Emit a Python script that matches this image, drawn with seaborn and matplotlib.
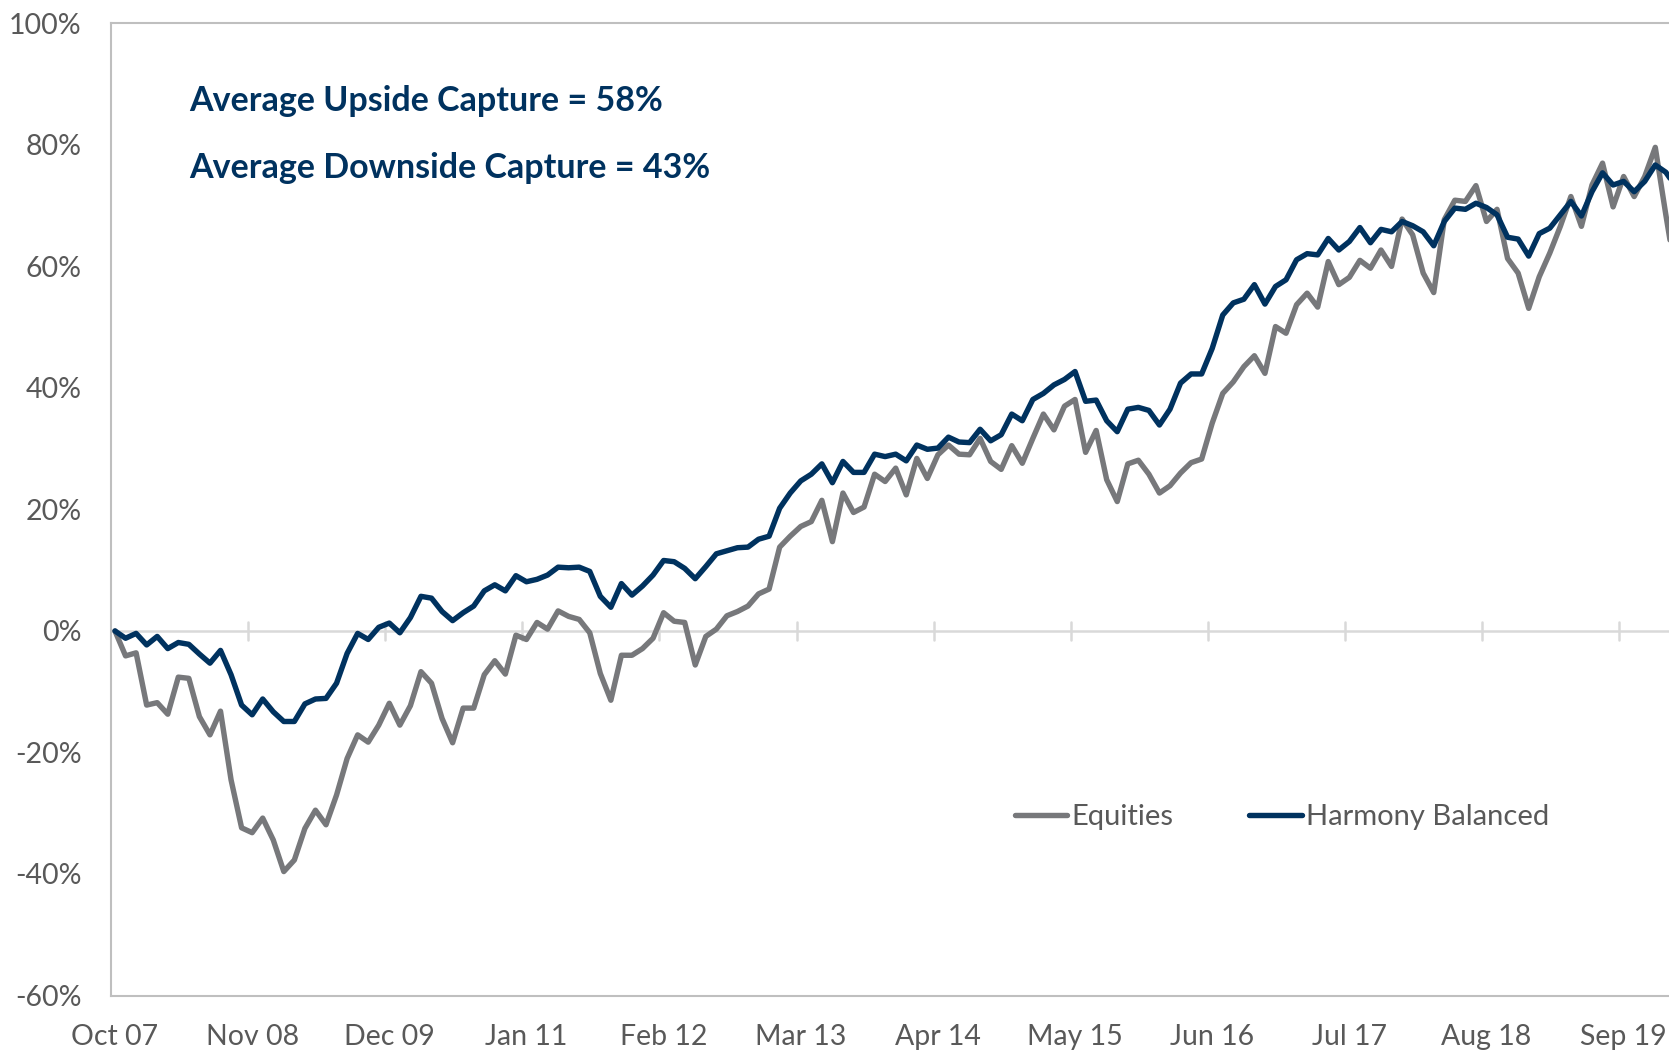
import numpy as np
import pandas as pd
import seaborn as sns
import matplotlib.pyplot as plt

# Cumulative return (%) by month, starting Oct 2007
equities = [
    0, -4.1, -3.6, -12.2, -11.8, -13.7, -7.6, -7.8, -14.1, -17.1,
    -13.2, -24.5, -32.4, -33.2, -30.8, -34.4, -39.6, -37.7, -32.5, -29.5,
    -31.9, -27.0, -21.0, -17.1, -18.3, -15.5, -11.9, -15.5, -12.3, -6.7,
    -8.6, -14.4, -18.4, -12.7, -12.7, -7.2, -4.9, -7.1, -0.7, -1.4,
    1.4, 0.3, 3.3, 2.4, 1.9, -0.3, -7.0, -11.4, -4.0, -4.0,
    -2.9, -1.2, 3.0, 1.6, 1.4, -5.6, -0.9, 0.3, 2.5, 3.2,
    4.1, 6.1, 6.9, 13.8, 15.6, 17.2, 18.0, 21.5, 14.7, 22.7,
    19.5, 20.4, 25.8, 24.6, 26.8, 22.4, 28.4, 25.1, 29.0, 30.6,
    29.1, 29.0, 31.7, 27.9, 26.6, 30.5, 27.6, 31.7, 35.7, 33.1,
    37.0, 38.1, 29.4, 33.0, 24.9, 21.3, 27.5, 28.1, 25.8, 22.7,
    23.9, 26.0, 27.7, 28.3, 34.2, 39.1, 41.0, 43.5, 45.3, 42.4,
    50.1, 49.0, 53.7, 55.6, 53.3, 60.8, 57.0, 58.2, 61.0, 59.7,
    62.7, 60.0, 67.8, 65.2, 58.9, 55.7, 67.7, 70.9, 70.7, 73.3,
    67.4, 69.4, 61.3, 58.9, 53.1, 58.3, 62.2, 66.6, 71.5, 66.6,
    73.4, 77.0, 69.8, 74.8, 71.5, 74.8, 79.6, 68.5, 58.0,
]
harmony = [
    0, -1.2, -0.4, -2.3, -0.9, -2.9, -1.9, -2.2, -3.8, -5.3,
    -3.2, -7.2, -12.2, -13.8, -11.2, -13.3, -14.9, -14.9, -12.0, -11.2,
    -11.1, -8.6, -3.7, -0.4, -1.4, 0.6, 1.3, -0.3, 2.2, 5.7,
    5.4, 3.2, 1.7, 3.0, 4.1, 6.6, 7.6, 6.6, 9.1, 8.1,
    8.5, 9.2, 10.5, 10.4, 10.5, 9.8, 5.7, 3.9, 7.8, 5.9,
    7.4, 9.2, 11.6, 11.4, 10.3, 8.6, 10.6, 12.7, 13.2, 13.7,
    13.8, 15.1, 15.6, 20.2, 22.7, 24.7, 25.8, 27.5, 24.4, 27.9,
    26.1, 26.1, 29.1, 28.7, 29.1, 28.0, 30.6, 29.9, 30.1, 31.9,
    31.1, 31.0, 33.2, 31.3, 32.3, 35.7, 34.6, 38.1, 39.1, 40.5,
    41.4, 42.7, 37.8, 38.0, 34.6, 32.8, 36.5, 36.8, 36.3, 33.9,
    36.5, 40.8, 42.3, 42.3, 46.5, 52.0, 54.0, 54.6, 57.0, 53.8,
    56.7, 57.8, 61.1, 62.1, 61.9, 64.6, 62.7, 64.1, 66.4, 63.9,
    66.1, 65.7, 67.4, 66.7, 65.7, 63.4, 67.4, 69.6, 69.4, 70.4,
    69.7, 68.5, 64.8, 64.5, 61.7, 65.4, 66.3, 68.5, 70.7, 68.3,
    72.3, 75.4, 73.4, 74.0, 72.3, 74.0, 76.7, 75.5, 73.0,
]
tick_labels = ["Oct 07", "Nov 08", "Dec 09", "Jan 11", "Feb 12", "Mar 13",
               "Apr 14", "May 15", "Jun 16", "Jul 17", "Aug 18", "Sep 19"]
series_names = ["Equities", "Harmony Balanced"]
colors = ["#77787b", "#00325f"]

months = np.arange(len(equities))
df = pd.concat([
    pd.DataFrame({"month": months, "value": equities, "series": series_names[0]}),
    pd.DataFrame({"month": months, "value": harmony, "series": series_names[1]}),
], ignore_index=True)

sns.set_style("white")
plt.rcParams["font.family"] = ["Lato", "DejaVu Sans"]

fig = plt.figure(figsize=(16.69, 10.51), dpi=100)
ax = fig.add_axes([111 / 1669, 1 - 995.5 / 1051, 1 - 111 / 1669, (995.5 - 23.4) / 1051])

# zero line with category ticks
ax.axhline(0, color="#d9d9d9", lw=1.8, zorder=1)
for t in np.arange(12.6, 150, 13):
    ax.plot([t, t], [-1.55, 1.55], color="#d9d9d9", lw=1.8, zorder=1)

sns.lineplot(data=df, x="month", y="value", hue="series", hue_order=series_names,
             palette=colors, linewidth=3.9, errorbar=None, legend=False, ax=ax, zorder=3)

ax.set_xlim(-0.38, 147.3)
ax.set_ylim(-60, 100)
ax.set_yticks(range(-60, 101, 20))
ax.set_yticklabels([f"{v}%" for v in range(-60, 101, 20)])
ax.set_xticks(np.arange(0, 13 * len(tick_labels), 13))
ax.set_xticklabels(tick_labels)
ax.tick_params(axis="y", length=0, pad=21, labelsize=20.5, labelcolor="#595959")
ax.tick_params(axis="x", length=0, pad=20.5, labelsize=20.5, labelcolor="#595959")
ax.set_xlabel("")
ax.set_ylabel("")

for side in ["top", "left", "bottom"]:
    ax.spines[side].set_color("#bfbfbf")
    ax.spines[side].set_linewidth(1.5)
ax.spines["right"].set_visible(False)

handles = [plt.Line2D([], [], color=c, lw=3.9) for c in colors]
leg = ax.legend(handles, series_names, ncol=2, frameon=False, loc="center",
                bbox_to_anchor=(0.7516, 0.1836), fontsize=21, handlelength=1.8,
                handletextpad=0.15, columnspacing=2.6)
for txt in leg.get_texts():
    txt.set_color("#595959")

fig.text(189.5 / 1669, 1 - 101 / 1051, "Average Upside Capture = 58%", color="#00325f",
         fontsize=24.5, fontweight="bold", va="center", ha="left")
fig.text(189.5 / 1669, 1 - 168 / 1051, "Average Downside Capture = 43%", color="#00325f",
         fontsize=24.5, fontweight="bold", va="center", ha="left")

fig.savefig("out.png", dpi=100)
